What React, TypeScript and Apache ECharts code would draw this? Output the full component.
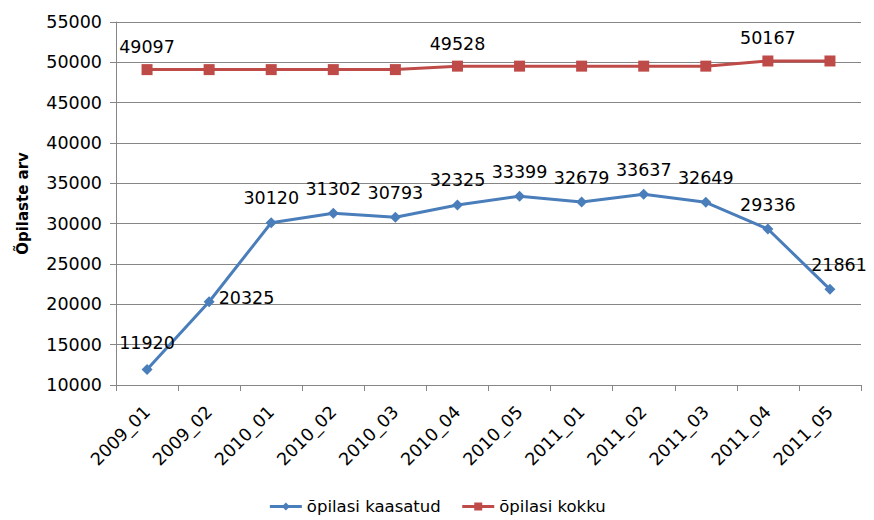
import React, { useEffect, useRef } from "react";
import * as echarts from "echarts";

const categories = ["2009_01", "2009_02", "2010_01", "2010_02", "2010_03", "2010_04", "2010_05", "2011_01", "2011_02", "2011_03", "2011_04", "2011_05"];
const kaasatud = [11920, 20325, 30120, 31302, 30793, 32325, 33399, 32679, 33637, 32649, 29336, 21861];
const kokku = [49097, 49097, 49097, 49097, 49097, 49528, 49528, 49528, 49528, 49528, 50167, 50167];
const kokkuLabelIdx = [0, 5, 10];
const yTicks = { min: 10000, max: 55000, interval: 5000 };

const FONT = "DejaVu Sans";

export default function App() {
  const ref = useRef<HTMLDivElement>(null);
  useEffect(() => {
    const chart = echarts.init(ref.current!, null, { renderer: "svg" });
    const blueData = kaasatud.map((v, i) => ({
      value: v,
      label:
        i === 1
          ? { position: "right", offset: [-6, -4] }
          : i === 11
          ? { position: "top", offset: [9, 0] }
          : i === 0
          ? { position: "top", offset: [0, -2] }
          : { position: "top" },
    }));
    const redData = kokku.map((v, i) => ({
      value: v,
      label: { show: kokkuLabelIdx.includes(i) },
    }));
    chart.setOption({
      animation: false,
      textStyle: { fontFamily: FONT },
      grid: { left: 116, right: 13, top: 22, bottom: 135 },
      legend: {
        top: 498,
        left: "center",
        padding: 0,
        itemWidth: 32,
        itemHeight: 10,
        itemGap: 20,
        lineStyle: { width: 3 },
        textStyle: { fontSize: 16.5, color: "#000", fontFamily: FONT },
        data: ["õpilasi kaasatud", "õpilasi kokku"],
      },
      xAxis: {
        type: "category",
        data: categories,
        boundaryGap: true,
        axisLine: { lineStyle: { color: "#868686", width: 1 } },
        axisTick: { show: true, alignWithLabel: false, length: 6, lineStyle: { color: "#868686" } },
        axisLabel: { rotate: 45, fontSize: 17.5, color: "#000", fontFamily: FONT, margin: 24 },
      },
      yAxis: {
        type: "value",
        min: yTicks.min,
        max: yTicks.max,
        interval: yTicks.interval,
        name: "Õpilaste arv",
        nameLocation: "middle",
        nameGap: 86,
        nameTextStyle: { fontSize: 15, fontWeight: "bold", color: "#000", fontFamily: FONT },
        axisLine: { show: true, lineStyle: { color: "#868686" } },
        axisTick: { show: true, length: 6, lineStyle: { color: "#868686" } },
        axisLabel: { fontSize: 17.5, color: "#000", fontFamily: FONT, margin: 14, formatter: (v: number) => String(v) },
        splitLine: { lineStyle: { color: "#868686", width: 1 } },
      },
      series: [
        {
          name: "õpilasi kaasatud",
          type: "line",
          data: blueData,
          symbol: "diamond",
          symbolSize: 11,
          itemStyle: { color: "#4A7EBB" },
          lineStyle: { width: 3, color: "#4A7EBB" },
          label: { show: true, fontSize: 17.5, color: "#000", fontFamily: FONT, distance: 10 },
          z: 3,
        },
        {
          name: "õpilasi kokku",
          type: "line",
          data: redData,
          symbol: "rect",
          symbolSize: 11,
          itemStyle: { color: "#BE4B48" },
          lineStyle: { width: 3, color: "#BE4B48" },
          label: { position: "top", fontSize: 17.5, color: "#000", fontFamily: FONT, distance: 8 },
          z: 2,
        },
      ],
    });
    return () => chart.dispose();
  }, []);
  return <div ref={ref} style={{ width: 874, height: 520, margin: "-8px 0 0 -8px" }} />;
}
